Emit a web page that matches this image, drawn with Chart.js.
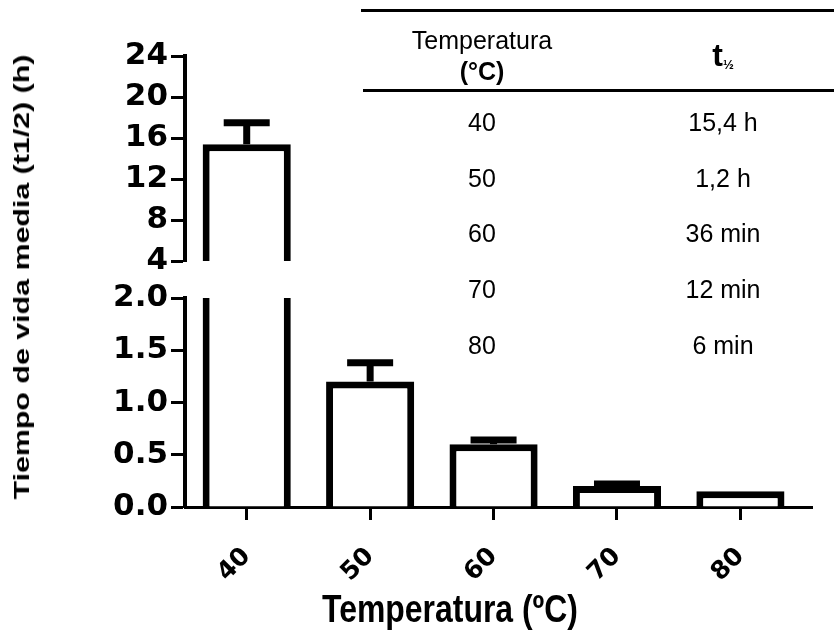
<!DOCTYPE html>
<html lang="es">
<head>
    <meta charset="UTF-8">
    <title>Tiempo de vida media vs temperatura</title>
    <script src="https://cdn.jsdelivr.net/npm/chart.js"></script>
    <style>
        html, body { margin: 0; padding: 0; background: #fff; overflow: hidden; }
        .wrap { position: relative; width: 834px; height: 637px; font-family: 'Liberation Sans', Arial, sans-serif; color: #000; }
        .txt { position: absolute; white-space: nowrap; line-height: 1; transform: translate(-50%, -50%); }
        .rule { position: absolute; height: 3px; background: #000; }
        #yTitle { font-weight: bold; font-size: 22px; transform: translate(-50%, -50%) rotate(-90deg) scaleX(1.38); }
        #xTitle { font-weight: bold; font-size: 38px; transform: translate(-50%, -50%) scaleX(0.84); }
    </style>
</head>
<body>
    <div class="wrap" id="wrap">
        <canvas id="halfLifeChart"></canvas>
        <div class="txt" id="yTitle" style="left:22px; top:277px;">Tiempo de vida media (t1/2) (h)</div>
        <div class="txt" id="xTitle" style="left:450px; top:609px;">Temperatura (ºC)</div>
    </div>

    <script>
        // data
        const temps = [40, 50, 60, 70, 80];
        const halfLife = [15.4, 1.2, 0.6, 0.2, 0.15];   // hours
        const errUp = [2.1, 0.18, 0.04, 0.02, 0];
        const tableTimes = ['15,4 h', '1,2 h', '36 min', '12 min', '6 min'];

        // broken y axis: lower and upper ranges
        const lowRange = [0, 2];
        const highRange = [4, 24];

        const tickFont = { family: "'DejaVu Sans', sans-serif", size: 31, weight: 'bold' };
        const xTickFont = { family: "'DejaVu Sans', sans-serif", size: 25, weight: 'bold' };

        // lower part of every bar (tall ones are cut at the break)
        const lowData = temps.map((t, i) => ({ x: t, y: Math.min(halfLife[i], lowRange[1]) }));
        // upper part only for bars that reach past the break
        const highData = temps
            .map((t, i) => ({ x: t, v: halfLife[i] }))
            .filter(d => d.v > highRange[0])
            .map(d => ({ x: d.x, y: [highRange[0], d.v] }));

        // error bars (upward only)
        const errorBars = {
            id: 'errorBars',
            afterDatasetsDraw(chart) {
                const { ctx, scales } = chart;
                ctx.save();
                ctx.strokeStyle = '#000';
                ctx.lineWidth = 7;
                temps.forEach((t, i) => {
                    if (!errUp[i]) return;
                    const ys = halfLife[i] > lowRange[1] ? scales.yUp : scales.yLow;
                    const x = scales.x.getPixelForValue(t);
                    const y0 = ys.getPixelForValue(halfLife[i]);
                    const y1 = ys.getPixelForValue(halfLife[i] + errUp[i]);
                    ctx.beginPath();
                    ctx.moveTo(x, y0);
                    ctx.lineTo(x, y1);
                    ctx.moveTo(x - 23, y1);
                    ctx.lineTo(x + 23, y1);
                    ctx.stroke();
                });
                ctx.restore();
            }
        };

        const yCommon = {
            type: 'linear',
            position: 'left',
            stack: 'ybreak',
            grid: { drawOnChartArea: false, tickLength: 14, tickWidth: 3, tickColor: '#000' },
            border: { color: '#000', width: 4 },
            afterFit: s => { s.width = 85; }
        };

        new Chart(document.getElementById('halfLifeChart'), {
            type: 'bar',
            data: {
                datasets: [
                    {
                        data: lowData,
                        xAxisID: 'x',
                        yAxisID: 'yLow',
                        grouped: false,
                        backgroundColor: '#fff',
                        borderColor: '#000',
                        borderSkipped: false,
                        borderWidth: c => ({ left: 7, right: 7, bottom: 0,
                            top: halfLife[c.dataIndex] > lowRange[1] ? 0 : 7 }),
                        barPercentage: 0.714,
                        categoryPercentage: 1
                    },
                    {
                        data: highData,
                        xAxisID: 'x',
                        yAxisID: 'yUp',
                        grouped: false,
                        backgroundColor: '#fff',
                        borderColor: '#000',
                        borderSkipped: false,
                        borderWidth: { left: 7, right: 7, top: 7, bottom: 0 },
                        barPercentage: 0.714,
                        categoryPercentage: 1
                    }
                ]
            },
            options: {
                responsive: true,
                maintainAspectRatio: false,
                animation: false,
                layout: { padding: { left: 100, top: 56, right: 22, bottom: 0 } },
                plugins: { legend: { display: false }, tooltip: { enabled: false } },
                scales: {
                    x: {
                        type: 'linear',
                        min: 35,
                        max: 85.8,
                        offset: false,
                        afterBuildTicks: s => { s.ticks = temps.map(v => ({ value: v })); },
                        ticks: { font: xTickFont, color: '#000', minRotation: 45, maxRotation: 45,
                            autoSkip: false, padding: 22 },
                        grid: { drawOnChartArea: false, offset: false, tickLength: 13, tickWidth: 3, tickColor: '#000' },
                        border: { color: '#000', width: 3 },
                        afterFit: s => { s.height = 130; }
                    },
                    yUp: Object.assign({}, yCommon, {
                        stackWeight: 205,
                        weight: 3,
                        min: highRange[0],
                        max: highRange[1],
                        ticks: { font: tickFont, color: '#000', padding: 3, stepSize: 4, autoSkip: false }
                    }),
                    yGap: Object.assign({}, yCommon, {
                        stackWeight: 37,
                        weight: 2,
                        min: 0,
                        max: 1,
                        ticks: { display: false },
                        grid: { display: false },
                        border: { display: false }
                    }),
                    yLow: Object.assign({}, yCommon, {
                        stackWeight: 209,
                        weight: 1,
                        min: lowRange[0],
                        max: lowRange[1],
                        ticks: { font: tickFont, color: '#000', padding: 3, stepSize: 0.5, autoSkip: false,
                            callback: v => v.toFixed(1) }
                    })
                }
            },
            plugins: [errorBars]
        });

        // inset table with the half-life values
        const wrap = document.getElementById('wrap');
        function place(html, x, y, css) {
            const d = document.createElement('div');
            d.className = 'txt';
            d.innerHTML = html;
            d.style.left = x + 'px';
            d.style.top = y + 'px';
            d.style.cssText += css || '';
            wrap.appendChild(d);
        }
        function rule(x, y) {
            const d = document.createElement('div');
            d.className = 'rule';
            d.style.left = x + 'px';
            d.style.top = (y - 1.5) + 'px';
            d.style.width = (834 - x) + 'px';
            wrap.appendChild(d);
        }
        rule(361, 10);
        rule(363, 90);
        place('Temperatura', 482, 40, 'font-size:25px;');
        place('(°C)', 482, 71, 'font-size:25px;font-weight:bold;');
        place('t<span style="font-size:13px;vertical-align:-3px;">½</span>', 723, 55, 'font-size:32px;font-weight:bold;');
        temps.forEach((t, i) => {
            const y = 122 + i * 55.7;
            place(String(t), 482, y, 'font-size:25px;');
            place(tableTimes[i], 723, y, 'font-size:25px;');
        });
    </script>
</body>
</html>
